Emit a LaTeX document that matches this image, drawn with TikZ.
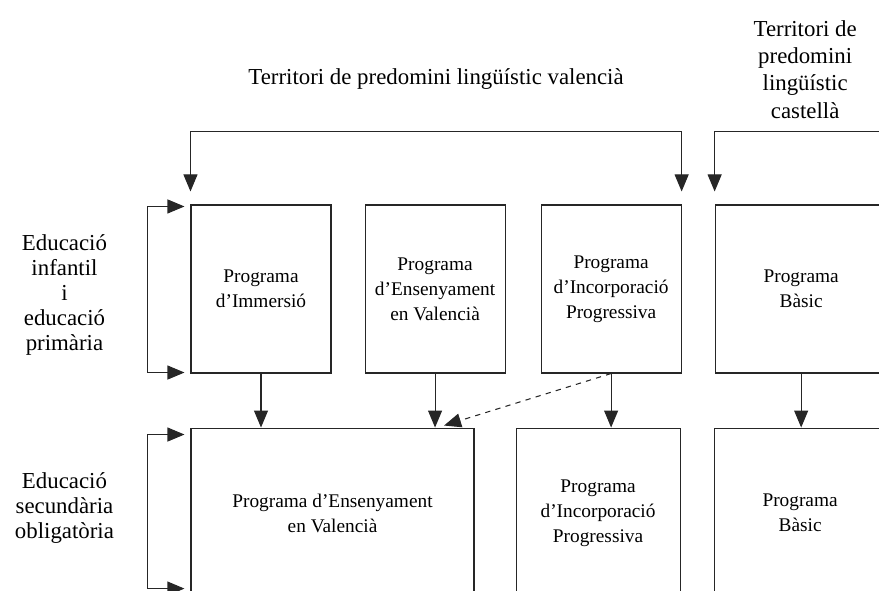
\documentclass[tikz,border=0pt]{standalone}
\usepackage{fontspec}
\setmainfont{Liberation Serif}
\usepackage{tikz}
\usetikzlibrary{positioning, arrows.meta, calc}

\begin{document}
\begin{tikzpicture}[node distance=1.08cm and 0.7cm]
        \tikzstyle{prog} = [rectangle, draw=black!85, line width=0.6pt, minimum width=2.8cm, minimum height=3.36cm, align=center, inner sep=0pt, font=\fontsize{11}{14.2}\selectfont]
        \tikzstyle{lbl} = [align=center, inner sep=0pt, font=\fontsize{13}{14.2}\selectfont]
        \tikzstyle{arrow} = [line width=0.6pt, draw=black!85, -{Triangle[length=3.4mm, width=2.8mm]}]
        \tikzstyle{twoway} = [line width=0.6pt, draw=black!85, {Triangle[length=3.4mm, width=2.8mm]}-{Triangle[length=3.4mm, width=2.8mm]}]

        \useasboundingbox (0,0) rectangle (17.58,11.8);

        % primer cicle
        \node [prog] (immersio) at (5.22,6.02) {Programa\\d'Immersió};
        \node [prog, right=0.66cm of immersio] (pev) {Programa\\d'Ensenyament\\en Valencià};
        \node [prog, right=0.7cm of pev] (pip) {Programa\\d'Incorporació\\Progressiva};
        \node [prog, right=0.66cm of pip, minimum width=3.44cm] (basic) {Programa\\Bàsic};

        % secundària
        \node [prog, below=1.08cm of immersio.south west, anchor=north west, minimum width=5.66cm, minimum height=3.4cm] (pev_eso) {Programa d'Ensenyament\\en Valencià};
        \node [prog, right=0.82cm of pev_eso, minimum width=3.28cm, minimum height=3.4cm] (pip_eso) {Programa\\d'Incorporació\\Progressiva};
        \node [prog, right=0.66cm of pip_eso, minimum width=3.44cm, minimum height=3.4cm] (basic_eso) {Programa\\Bàsic};

        % etiquetes
        \node [lbl] (valencia) at ($(immersio.north west)!0.5!(pip.north east)+(0,2.5)$) {Territori de predomini lingüístic valencià};
        \node [lbl, font=\fontsize{13}{15.6}\selectfont] (castella) at ($(basic.north)+(0.08,2.7)$) {Territori de\\predomini\\lingüístic\\castellà};
        \node [lbl] (infantil) at ($(immersio.west)+(-2.52,-0.12)$) {Educació\\infantil\\i\\educació\\primària};
        \node [lbl] (eso) at ($(pev_eso.west)+(-2.52,0.1)$) {Educació\\secundària\\obligatòria};

        % fletxes
        \draw [twoway, shorten <=0.26cm, shorten >=0.26cm] (immersio.north west) -- ++(0,1.46) -| (pip.north east);
        \draw [twoway, shorten <=0.26cm, shorten >=0.26cm] (basic.north west) -- ++(0,1.46) -| (basic.north east);
        \draw [twoway, shorten <=0.12cm, shorten >=0.12cm] ([yshift=-0.04cm]immersio.north west) -- ++(-0.86,0) |- ([yshift=0.02cm]immersio.south west);
        \draw [twoway, shorten <=0.12cm, shorten >=0.12cm] ([yshift=-0.14cm]pev_eso.north west) -- ++(-0.86,0) |- ([yshift=0.2cm]pev_eso.south west);

        \draw [arrow] (immersio.south) -- (immersio.south |- pev_eso.north);
        \draw [arrow] (pev.south) -- (pev.south |- pev_eso.north);
        \draw [arrow] (pip.south) -- (pip.south |- pip_eso.north);
        \draw [arrow] (basic.south) -- (basic.south |- basic_eso.north);
        \draw [arrow, dashed] (pip.south) -- ($(pev.south |- pev_eso.north)+(0.18,0.04)$);
    \end{tikzpicture}
\end{document}
